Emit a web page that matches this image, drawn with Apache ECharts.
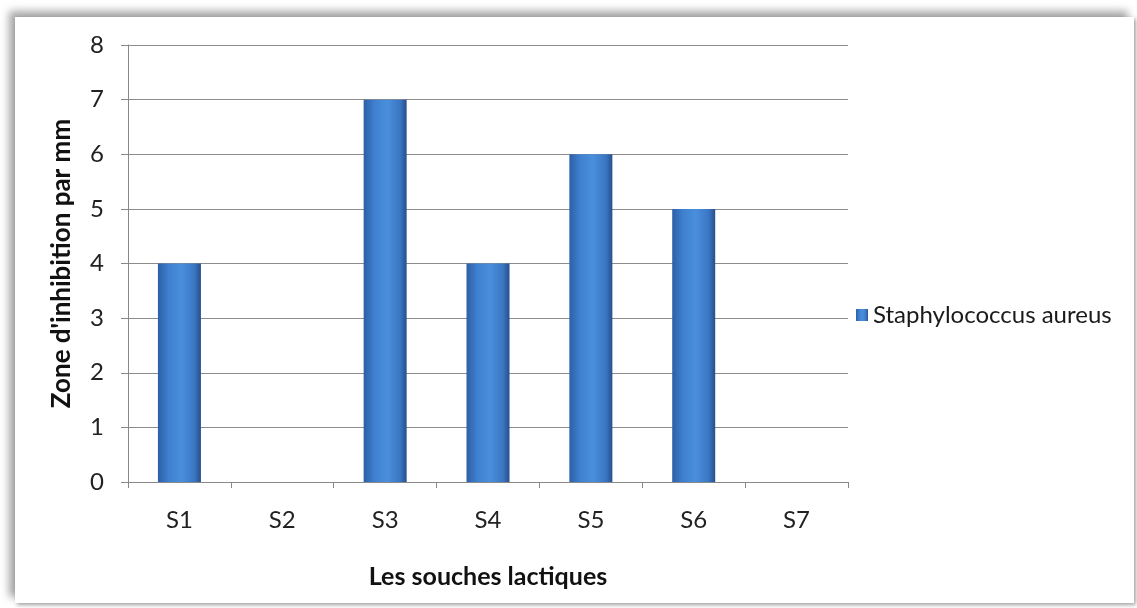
<!DOCTYPE html>
<html><head><meta charset="utf-8">
<script src="https://cdn.jsdelivr.net/npm/echarts@6/dist/echarts.min.js"></script>
<style>
html,body{margin:0;padding:0;background:#fff;width:1137px;height:608px;overflow:hidden}
#frame{position:absolute;left:15px;top:17px;width:1119px;height:586px;background:#fff;
 box-shadow:-6px -6px 8px rgba(0,0,0,0.35), 2px 2px 4px rgba(0,0,0,0.35);}
#chart{position:absolute;left:0;top:0;width:1137px;height:608px}
</style></head>
<body><div id="frame"></div><div id="chart"></div>
<script>
const categories = ['S1','S2','S3','S4','S5','S6','S7'];
const seriesName = 'Staphylococcus aureus';
const values = [4, 0, 7, 4, 6, 5, 0];
const yTicks = {min: 0, max: 8, interval: 1};

const chart = echarts.init(document.getElementById('chart'), null, {renderer:'canvas'});
const font = 'Lato, "Open Sans", sans-serif';
chart.setOption({
  backgroundColor: 'transparent',
  animation: false,
  grid: {left: 128, right: 289, top: 45, bottom: 126, containLabel: false},
  legend: {
    data: [seriesName], orient: 'vertical', left: 851, top: 298,
    itemWidth: 12, itemHeight: 12, itemGap: 6,
    icon: 'rect',
    textStyle: {fontFamily: font, fontSize: 24, color: '#1a1a1a'}
  },
  xAxis: {
    type: 'category', data: categories,
    name: 'Les souches lactiques', nameLocation: 'middle', nameGap: 82,
    nameTextStyle: {fontFamily: font, fontSize: 25, fontWeight: 'bold', color: '#111'},
    axisLine: {lineStyle: {color: '#888', width: 1}},
    axisTick: {show: true, alignWithLabel: false, length: 6, lineStyle: {color: '#888'}},
    axisLabel: {fontFamily: font, fontSize: 24, color: '#222', margin: 26}
  },
  yAxis: {
    type: 'value', min: yTicks.min, max: yTicks.max, interval: yTicks.interval,
    name: "Zone d'inhibition par mm", nameLocation: 'middle', nameGap: 53, nameRotate: 90,
    nameTextStyle: {fontFamily: font, fontSize: 26, fontWeight: 'bold', color: '#111'},
    axisLine: {show: true, lineStyle: {color: '#888', width: 1}},
    axisTick: {show: true, length: 7, lineStyle: {color: '#888'}},
    axisLabel: {fontFamily: font, fontSize: 24, color: '#222', margin: 24},
    splitLine: {lineStyle: {color: '#8c8c8c', width: 1}}
  },
  series: [{
    name: seriesName, type: 'bar', data: values, barWidth: 43,
    itemStyle: {
      color: new echarts.graphic.LinearGradient(0, 0, 1, 0, [
        {offset: 0, color: '#2d5fa6'},
        {offset: 0.25, color: '#3f80cf'},
        {offset: 0.55, color: '#4a8fdc'},
        {offset: 0.85, color: '#3a76c2'},
        {offset: 1, color: '#274f8c'}
      ])
    }
  }]
});
</script></body></html>
